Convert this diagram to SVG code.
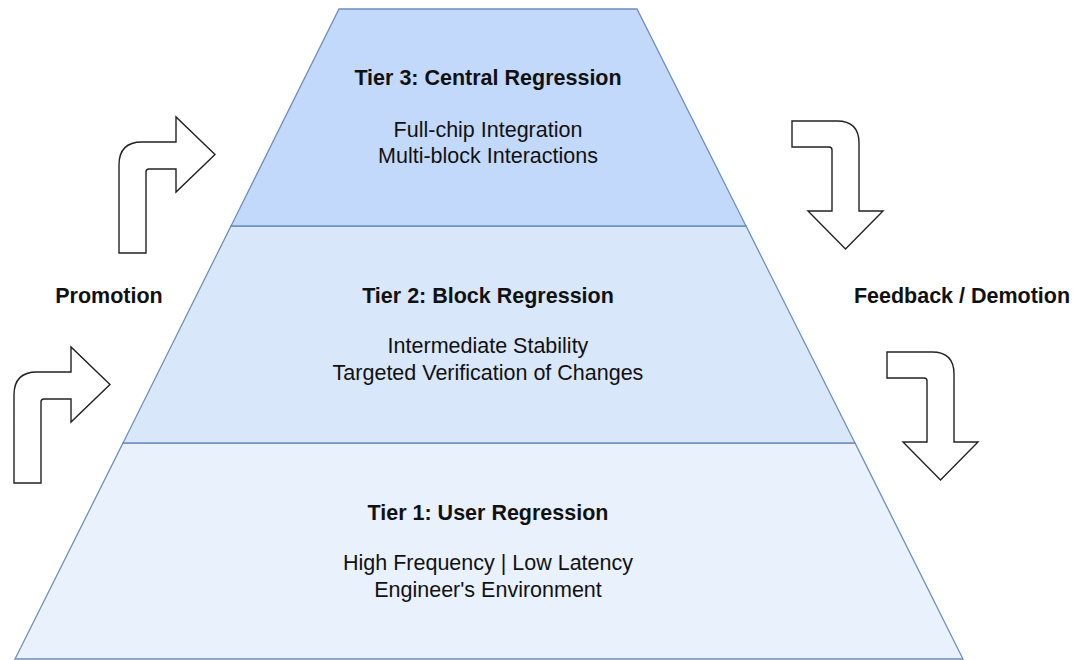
<svg xmlns="http://www.w3.org/2000/svg" width="1073" height="660" viewBox="0 0 1073 660">
  <style>
    .tier { stroke: #6c8ebf; stroke-width: 1.3; stroke-linejoin: miter; }
    .t3 { fill: #c3d9fb; }
    .t2 { fill: #d9e7fb; }
    .t1 { fill: #e9f1fd; }
    .bend { fill: #ffffff; stroke: #222222; stroke-width: 1.4; stroke-linejoin: miter; }
    .title { font-family: "Liberation Sans", Arial, sans-serif; font-weight: bold; font-size: 21.5px; fill: #111111; text-anchor: middle; }
    .body { font-family: "Liberation Sans", Arial, sans-serif; font-size: 21.5px; fill: #111111; text-anchor: middle; }
  </style>
  <defs>
    <!-- bent arrow turning right (stem up, head pointing right) -->
    <path id="bendRight" d="M119,253 L119,165 Q119,142 142,142 L176,142 L176,117 L215,154.5 L176,192 L176,169 L149,169 Q146,169 146,172 L146,253 Z"/>
    <!-- bent arrow turning down (bar to the right, head pointing down) -->
    <path id="bendDown" d="M792,121 L837,121 Q859,121 859,143 L859,211 L883,211 L845.5,249 L808,211 L832,211 L832,150 Q832,147 829,147 L792,147 Z"/>
  </defs>

  <!-- pyramid tiers -->
  <g id="tier1">
    <path class="tier t1" d="M123,443 L855,443 L963,659 L15,659 Z"/>
    <text class="title" x="488" y="520">Tier 1: User Regression</text>
    <text class="body" x="488" y="570">High Frequency | Low Latency</text>
    <text class="body" x="488" y="597">Engineer's Environment</text>
  </g>
  <g id="tier2">
    <path class="tier t2" d="M231,226 L746,226 L855,443 L123,443 Z"/>
    <text class="title" x="488" y="303">Tier 2: Block Regression</text>
    <text class="body" x="488" y="353">Intermediate Stability</text>
    <text class="body" x="488" y="380">Targeted Verification of Changes</text>
  </g>
  <g id="tier3">
    <path class="tier t3" d="M339,9 L637,9 L746,226 L231,226 Z"/>
    <text class="title" x="488" y="85">Tier 3: Central Regression</text>
    <text class="body" x="488" y="137">Full-chip Integration</text>
    <text class="body" x="488" y="163">Multi-block Interactions</text>
  </g>

  <!-- side flow arrows -->
  <g id="connectors">
    <use class="bend" href="#bendRight"/>
    <use class="bend" href="#bendRight" transform="translate(-105,230)"/>
    <use class="bend" href="#bendDown"/>
    <use class="bend" href="#bendDown" transform="translate(95,231)"/>
  </g>

  <g id="promotion">
    <text class="title" x="109" y="303">Promotion</text>
  </g>
  <g id="feedback">
    <text class="title" x="962" y="303">Feedback / Demotion</text>
  </g>
</svg>
